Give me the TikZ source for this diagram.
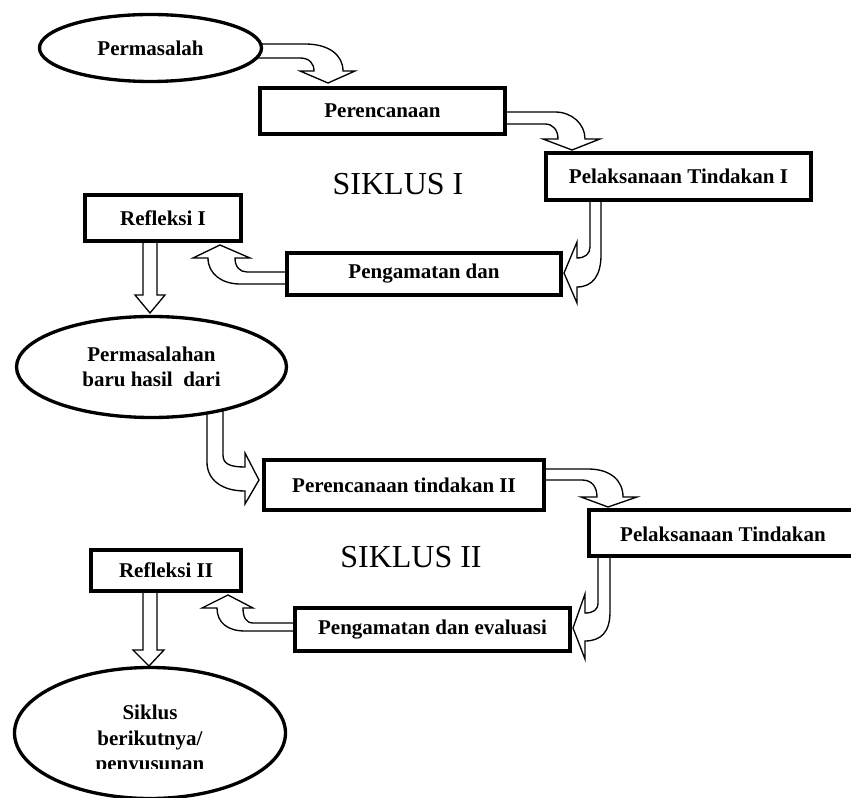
\documentclass[tikz,border=0pt]{standalone}
\usepackage{fontspec}
\setmainfont{Liberation Serif}
\usetikzlibrary{shapes.geometric}
\pgfdeclarelayer{bg}
\pgfsetlayers{bg,main}
\tikzset{
  lbl/.style={font=\bfseries\fontsize{15.75}{19}\selectfont, align=center, inner sep=0pt},
  box/.style={lbl, draw, line width=3pt, fill=white},
  oval/.style={lbl, ellipse, draw, line width=2.5pt, fill=white},
  blockarrow/.style={draw, fill=white, line width=1pt, line join=miter},
  cyc/.style={font=\fontsize{24}{28}\selectfont, inner sep=0pt},
}
\begin{document}
\begin{tikzpicture}[x=0.75pt,y=-0.75pt]
\useasboundingbox (0,0) rectangle (851,798);

% ---- nodes (pixel coordinates, y downward) ----
\node[oval, minimum width=166.5pt, minimum height=50.25pt] (e1) at (150.5,48) {Permasalah};
\node[box, minimum width=183.75pt, minimum height=34.5pt] (b1) at (382.5,111) {Perencanaan};
\node[box, minimum width=198.75pt, minimum height=35.25pt] (b2) at (678.5,176.5) {Pelaksanaan Tindakan I};
\node[box, minimum width=205.5pt, minimum height=31.5pt] (b3) at (424,274) {Pengamatan dan};
\node[box, minimum width=117pt, minimum height=34.5pt] (b4) at (163,218) {Refleksi I};
\node[oval, minimum width=202.5pt, minimum height=75.75pt] (e2) at (151.5,367) {Permasalahan\\baru hasil\ \ dari};
\node[box, minimum width=210pt, minimum height=37.5pt] (b5) at (404,485) {Perencanaan tindakan II};
\node[box, minimum width=231.75pt, minimum height=34.5pt] (b6) at (743.5,533) {};
\node[lbl] (b6t) at (723,534) {Pelaksanaan Tindakan};
\node[box, minimum width=206.25pt, minimum height=32.25pt] (b7) at (432.5,629.5) {Pengamatan dan evaluasi};
\node[box, minimum width=112.5pt, minimum height=30.75pt] (b8) at (166,570.5) {Refleksi II};
\node[oval, minimum width=203.25pt, minimum height=98.25pt] (e3) at (150,733) {};
\begin{scope}
  \clip (0,0) rectangle (851,769);
  \node[lbl] (e3t) at (150,740) {Siklus\\berikutnya/\\penyusunan};
\end{scope}

\node[cyc] (s1) at (398,184) {SIKLUS I};
\node[cyc] (s2) at (411,557) {SIKLUS II};

% ---- block arrows, behind the nodes ----
\begin{pgfonlayer}{bg}
% e1 -> b1
\draw[blockarrow] (240,44) -- (305,44) .. controls (329,44) and (343,55) .. (343,71)
  -- (355,71) -- (328,83) -- (300,71) -- (314,71)
  .. controls (314,63) and (309,58) .. (300,58) -- (240,58) -- cycle;
% b1 -> b2
\draw[blockarrow] (495,112) -- (555,112) .. controls (572,112) and (585,124) .. (585,139)
  -- (600,139) -- (572,150) -- (543,139) -- (558,139)
  .. controls (558,130) and (553,124) .. (545,124) -- (495,124) -- cycle;
% b2 -> b3
\draw[blockarrow] (590,195) -- (590,247) .. controls (590,254) and (585,258) .. (577,258)
  -- (577,242) -- (564,273) -- (577,303) -- (577,287)
  .. controls (593,287) and (601,275) .. (601,255) -- (601,195) -- cycle;
% b3 -> b4
\draw[blockarrow] (295,272) -- (247,272) .. controls (240,272) and (235,267) .. (235,258)
  -- (250,258) -- (220,245) -- (193,258) -- (208,258)
  .. controls (208,274) and (222,284) .. (240,284) -- (295,284) -- cycle;
% b4 -> e2
\draw[blockarrow] (143,235) -- (143,295) -- (135,295) -- (150,313) -- (165,295)
  -- (157,295) -- (157,235) -- cycle;
% e2 -> b5
\draw[blockarrow] (207,405) -- (207,462) .. controls (207,480) and (222,491) .. (245,491)
  -- (245,504) -- (259,480) -- (245,453) -- (245,467)
  .. controls (230,467) and (223,464) .. (223,455) -- (223,405) -- cycle;
% b5 -> b6
\draw[blockarrow] (536,469) -- (588,469) .. controls (610,469) and (623,480) .. (623,497)
  -- (637,497) -- (608,507) -- (581,497) -- (597,497)
  .. controls (597,487) and (592,480) .. (582,480) -- (536,480) -- cycle;
% b6 -> b7
\draw[blockarrow] (598,550) -- (598,603) .. controls (598,610) and (593,613) .. (585,613)
  -- (585,594) -- (573,628) -- (585,659) -- (585,641)
  .. controls (601,641) and (610,632) .. (610,612) -- (610,550) -- cycle;
% b7 -> b8
\draw[blockarrow] (303,623) -- (253,623) .. controls (246,623) and (243,617) .. (243,608)
  -- (253,608) -- (228,595) -- (202,608) -- (217,608)
  .. controls (217,623) and (228,631) .. (245,631) -- (303,631) -- cycle;
% b8 -> e3
\draw[blockarrow] (143,585) -- (143,650) -- (133,650) -- (149,666) -- (164,650)
  -- (157,650) -- (157,585) -- cycle;
\end{pgfonlayer}
\end{tikzpicture}
\end{document}
